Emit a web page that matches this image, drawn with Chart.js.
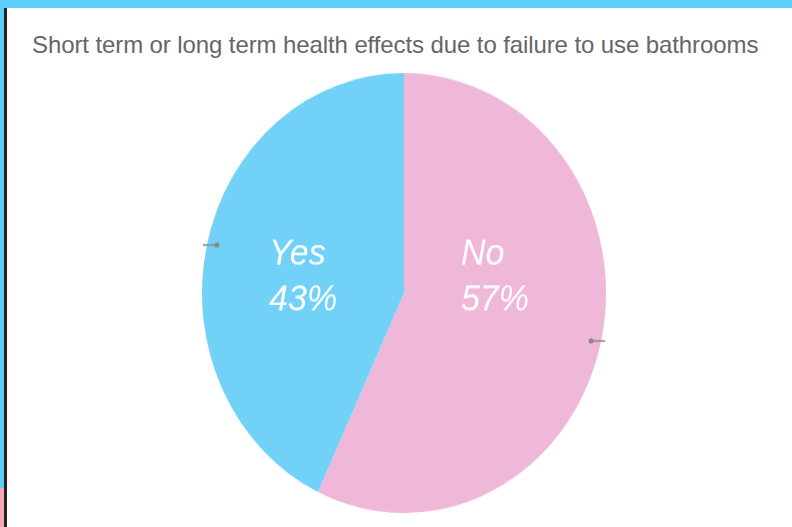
<!DOCTYPE html>
<html>
<head>
<meta charset="utf-8">
<script src="https://cdn.jsdelivr.net/npm/chart.js@4.4.0/dist/chart.umd.min.js"></script>
<style>
  body { margin: 0; width: 792px; height: 527px; overflow: hidden; background: #fff; position: relative;
         font-family: "Liberation Sans", Arial, sans-serif; }
  #topbar { position: absolute; left: 0; top: 0; width: 792px; height: 8px; background: #5bcffa; }
  #leftblue { position: absolute; left: 0; top: 0; width: 4px; height: 488px; background: #5bcffa; }
  #leftpink { position: absolute; left: 0; top: 488px; width: 4px; height: 39px; background: #f5a9b8; }
  #leftline { position: absolute; left: 4px; top: 8px; width: 3px; height: 519px; background: #222; }
  #title { position: absolute; left: 32px; top: 31px; font-size: 24px; letter-spacing: -0.1px; color: #666; white-space: nowrap; }
  #pie-wrap { position: absolute; left: 202px; top: 73px; width: 404px; height: 404px;
              transform-origin: 0 0; transform: scaleY(1.089); }
</style>
</head>
<body>
<div id="topbar"></div>
<div id="leftblue"></div>
<div id="leftpink"></div>
<div id="leftline"></div>
<div id="title">Short term or long term health effects due to failure to use bathrooms</div>
<div id="pie-wrap"><canvas id="pie"></canvas></div>
<script>
// data
const categories = ['No', 'Yes'];
const percentages = [57, 43];

// labels inside the slices + little grey stubs at the slice midpoints
const sliceLabels = {
    id: 'sliceLabels',
    afterDatasetsDraw(chart, args, opts) {
        const ctx = chart.ctx;
        const meta = chart.getDatasetMeta(0);
        meta.data.forEach((arc, i) => {
            const p = arc.getProps(['x', 'y', 'startAngle', 'endAngle', 'outerRadius']);
            const mid = (p.startAngle + p.endAngle) / 2;
            const r = p.outerRadius;
            const ex = p.x + Math.cos(mid) * r;
            const ey = p.y + Math.sin(mid) * r;
            const inward = Math.cos(mid) < 0 ? 1 : -1;

            ctx.save();
            ctx.strokeStyle = '#8a8a8a';
            ctx.fillStyle = '#8a8a8a';
            ctx.lineWidth = 1.5;
            ctx.beginPath();
            ctx.moveTo(ex - inward * 4, ey);
            ctx.lineTo(ex + inward * 10, ey);
            ctx.stroke();
            ctx.beginPath();
            ctx.arc(ex + inward * 10, ey, 2.5, 0, Math.PI * 2);
            ctx.fill();

            const off = opts.offsets[i];
            ctx.fillStyle = '#fff';
            ctx.font = 'italic 34px "Liberation Sans", Arial, sans-serif';
            ctx.textAlign = 'left';
            ctx.textBaseline = 'alphabetic';
            ctx.fillText(categories[i], p.x + off[0] * r, p.y + off[1] * r);
            ctx.fillText(percentages[i] + '%', p.x + off[0] * r, p.y + off[2] * r);
            ctx.restore();
        });
    }
};

new Chart(document.getElementById('pie'), {
    type: 'pie',
    data: {
        labels: categories,
        datasets: [{
            data: percentages,
            backgroundColor: ['#efb8d9', '#72d1f7'],
            borderWidth: 0
        }]
    },
    options: {
        responsive: true,
        maintainAspectRatio: false,
        animation: false,
        layout: { padding: 0 },
        plugins: {
            legend: { display: false },
            tooltip: { enabled: false },
            sliceLabels: { offsets: [[0.282, -0.127, 0.077], [-0.668, -0.127, 0.077]] }
        }
    },
    plugins: [sliceLabels]
});
</script>
</body>
</html>
